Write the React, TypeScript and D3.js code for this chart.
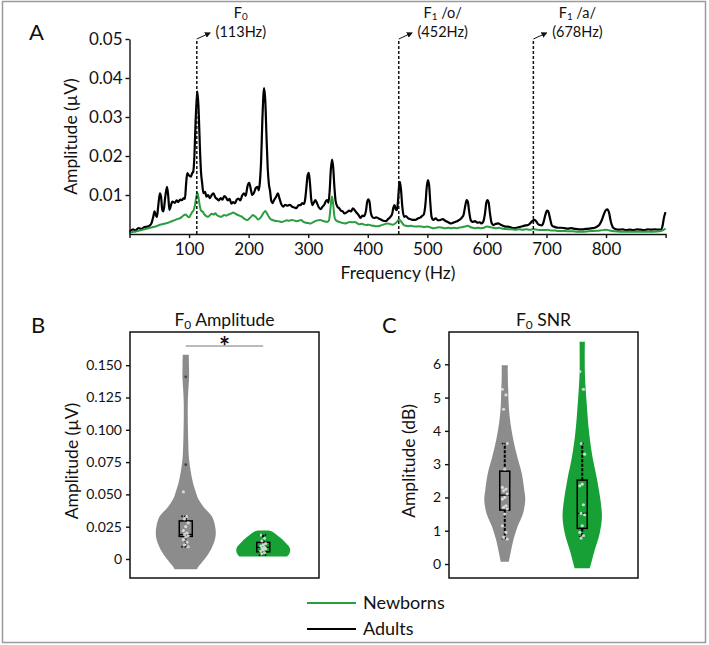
import React, { useEffect, useRef } from 'react';
import * as d3 from 'd3';

const WIDTH = 709;
const HEIGHT = 645;
const FONT = 'Lato, "Open Sans", sans-serif';
const LINE_GREEN = '#2a9d3f';
const VIOLIN_GREEN = '#17a035';
const VIOLIN_GRAY = '#8c8c8c';

// averaged spectra, [frequency (Hz), amplitude (µV)]
const adultSpectrum: [number, number][] = [
  [0, 0.0006], [6, 0.0012], [10, 0.0009], [15, 0.0015], [20, 0.0013], [25, 0.0018], [30, 0.0019], [34, 0.0022],
  [37, 0.0028], [40, 0.0045], [42, 0.0058], [44, 0.0049], [46, 0.0044], [48, 0.0068], [51, 0.0104], [53, 0.0095],
  [55, 0.0062], [57, 0.0058], [60, 0.0095], [63, 0.0121], [65, 0.0098], [67, 0.0062], [69, 0.007], [72, 0.0083],
  [76, 0.008], [79, 0.0086], [82, 0.0082], [85, 0.0088], [88, 0.0087], [91, 0.0092], [93, 0.009], [95, 0.0128],
  [97, 0.0156], [100, 0.015], [103, 0.0147], [105, 0.0155], [107, 0.016], [109, 0.02], [111, 0.029], [113, 0.035],
  [114, 0.0365], [116, 0.032], [118, 0.023], [120, 0.016], [122, 0.013], [124, 0.0105], [127, 0.0108], [129, 0.0096],
  [132, 0.01], [135, 0.0092], [138, 0.01], [141, 0.0104], [144, 0.0094], [147, 0.009], [150, 0.0086], [153, 0.0092],
  [156, 0.0088], [159, 0.0097], [162, 0.0094], [165, 0.0086], [168, 0.009], [171, 0.0078], [174, 0.0082], [177, 0.0079],
  [180, 0.0088], [183, 0.0091], [186, 0.0086], [189, 0.0098], [192, 0.0104], [195, 0.0098], [198, 0.0122], [201, 0.0131],
  [204, 0.0112], [206, 0.01], [209, 0.0106], [212, 0.0118], [215, 0.0121], [217, 0.0112], [219, 0.0135], [221, 0.019],
  [223, 0.029], [225, 0.036], [226, 0.0374], [228, 0.034], [230, 0.025], [232, 0.017], [234, 0.0128], [236, 0.011],
  [238, 0.0085], [240, 0.0079], [243, 0.0088], [246, 0.0095], [249, 0.0104], [252, 0.009], [255, 0.0076], [258, 0.007],
  [261, 0.0075], [265, 0.0073], [269, 0.0075], [273, 0.007], [277, 0.0068], [280, 0.0066], [284, 0.0074], [287, 0.0074],
  [290, 0.0079], [293, 0.0077], [295, 0.009], [297, 0.012], [299, 0.015], [301, 0.0157], [303, 0.013], [305, 0.009],
  [307, 0.0074], [310, 0.0082], [312, 0.0087], [315, 0.0078], [318, 0.0068], [321, 0.0064], [324, 0.007], [327, 0.0075],
  [330, 0.0085], [332, 0.0087], [334, 0.008], [336, 0.011], [338, 0.0165], [340, 0.0191], [342, 0.017], [344, 0.012],
  [346, 0.0085], [349, 0.007], [352, 0.0066], [355, 0.006], [358, 0.0058], [361, 0.0053], [365, 0.0056], [369, 0.006],
  [372, 0.0058], [375, 0.0066], [378, 0.0061], [381, 0.0055], [384, 0.005], [388, 0.0041], [391, 0.0047], [394, 0.0046],
  [397, 0.006], [399, 0.0082], [401, 0.0089], [403, 0.0082], [405, 0.0055], [408, 0.0043], [411, 0.0041], [414, 0.0043],
  [418, 0.004], [422, 0.0037], [426, 0.0034], [430, 0.0033], [434, 0.0038], [438, 0.0044], [441, 0.0052], [443, 0.0068],
  [445, 0.0074], [447, 0.0063], [449, 0.0061], [451, 0.009], [453, 0.013], [454, 0.0134], [456, 0.011], [458, 0.007],
  [461, 0.0044], [464, 0.0046], [468, 0.004], [472, 0.0038], [476, 0.0036], [480, 0.0036], [484, 0.004], [488, 0.0042],
  [491, 0.0046], [494, 0.005], [497, 0.008], [499, 0.012], [501, 0.0138], [503, 0.0125], [505, 0.008], [507, 0.0045],
  [510, 0.0036], [514, 0.004], [518, 0.0035], [522, 0.0036], [526, 0.0038], [530, 0.0034], [535, 0.003], [540, 0.0027],
  [545, 0.003], [550, 0.0033], [554, 0.0036], [558, 0.0042], [561, 0.005], [564, 0.0075], [566, 0.0087], [568, 0.0083],
  [570, 0.006], [573, 0.0035], [576, 0.0031], [580, 0.0033], [584, 0.0029], [588, 0.003], [591, 0.0027], [594, 0.0032],
  [597, 0.0055], [599, 0.008], [601, 0.0087], [603, 0.008], [605, 0.0055], [608, 0.0028], [611, 0.0023], [615, 0.0026],
  [619, 0.0027], [623, 0.0024], [627, 0.0021], [631, 0.0019], [635, 0.0019], [640, 0.0017], [645, 0.0015], [650, 0.0016],
  [655, 0.0018], [660, 0.002], [665, 0.0022], [669, 0.0023], [673, 0.0028], [677, 0.0034], [680, 0.0036], [683, 0.0032],
  [686, 0.0025], [689, 0.0023], [692, 0.0022], [695, 0.003], [698, 0.0048], [701, 0.006], [703, 0.0058], [706, 0.004],
  [709, 0.0022], [712, 0.0019], [716, 0.0017], [720, 0.0016], [725, 0.0016], [730, 0.0015], [736, 0.0014], [742, 0.0015],
  [748, 0.0013], [754, 0.0012], [760, 0.0012], [766, 0.0013], [772, 0.0014], [777, 0.0015], [781, 0.0016], [785, 0.0019],
  [789, 0.0024], [793, 0.0036], [797, 0.0053], [800, 0.0062], [802, 0.0063], [805, 0.0055], [808, 0.0032], [812, 0.0016],
  [817, 0.0012], [822, 0.0011], [828, 0.0012], [834, 0.001], [840, 0.0011], [846, 0.001], [852, 0.0012], [858, 0.0011],
  [864, 0.001], [870, 0.0012], [876, 0.0011], [882, 0.0012], [888, 0.0011], [893, 0.0012], [895, 0.0022], [897, 0.004],
  [899, 0.0052], [900, 0.0056],
];

const newbornSpectrum: [number, number][] = [
  [0, 0.0003], [5, 0.0005], [10, 0.0006], [15, 0.0008], [20, 0.001], [25, 0.0012], [30, 0.0014], [35, 0.0016],
  [40, 0.0018], [45, 0.002], [50, 0.0023], [55, 0.0025], [60, 0.0027], [65, 0.0029], [70, 0.0032], [75, 0.0035],
  [80, 0.0038], [85, 0.0041], [88, 0.0044], [91, 0.0048], [94, 0.005], [97, 0.0046], [100, 0.0043], [103, 0.005],
  [106, 0.0058], [108, 0.0062], [110, 0.0075], [112, 0.0095], [114, 0.0106], [116, 0.0092], [118, 0.0072], [120, 0.006],
  [123, 0.0057], [126, 0.005], [129, 0.0046], [132, 0.0044], [135, 0.0048], [138, 0.0052], [141, 0.005], [144, 0.0053],
  [147, 0.0048], [150, 0.0046], [153, 0.0044], [156, 0.0046], [159, 0.0049], [162, 0.0047], [165, 0.0049], [168, 0.0051],
  [171, 0.0053], [174, 0.0055], [177, 0.0053], [180, 0.005], [183, 0.0048], [186, 0.0046], [189, 0.0044], [192, 0.004],
  [195, 0.0037], [198, 0.0036], [201, 0.004], [204, 0.0044], [207, 0.0049], [210, 0.0046], [213, 0.0042], [216, 0.0037],
  [219, 0.004], [222, 0.0046], [225, 0.0054], [228, 0.0059], [231, 0.0052], [234, 0.0044], [237, 0.0038], [240, 0.0036],
  [244, 0.0034], [248, 0.0033], [252, 0.0032], [256, 0.0031], [260, 0.0033], [264, 0.0035], [268, 0.0034], [272, 0.0036],
  [276, 0.0035], [280, 0.0033], [284, 0.0034], [288, 0.0036], [292, 0.0031], [296, 0.0029], [300, 0.0028], [304, 0.0027],
  [308, 0.003], [312, 0.0033], [316, 0.0035], [320, 0.0036], [324, 0.0034], [328, 0.0032], [332, 0.0031], [335, 0.0035],
  [337, 0.006], [339, 0.009], [340, 0.0096], [342, 0.0075], [344, 0.0045], [346, 0.0036], [350, 0.0032], [354, 0.003],
  [358, 0.0028], [362, 0.0027], [366, 0.0029], [370, 0.0031], [374, 0.003], [378, 0.0031], [382, 0.0028], [386, 0.0025],
  [390, 0.0026], [394, 0.0024], [398, 0.0023], [402, 0.0024], [406, 0.0022], [410, 0.0021], [414, 0.002], [418, 0.002],
  [422, 0.0022], [426, 0.0024], [430, 0.0026], [434, 0.0027], [438, 0.0025], [442, 0.0024], [446, 0.0027], [450, 0.0033],
  [453, 0.0037], [456, 0.0032], [460, 0.0024], [464, 0.0021], [468, 0.002], [472, 0.0021], [476, 0.002], [480, 0.0019],
  [485, 0.002], [490, 0.0019], [495, 0.0018], [500, 0.0019], [505, 0.0017], [510, 0.0015], [515, 0.0016], [520, 0.0017],
  [525, 0.0016], [530, 0.0015], [535, 0.0016], [540, 0.0015], [545, 0.0016], [550, 0.0015], [555, 0.0017], [560, 0.0018],
  [565, 0.002], [568, 0.0021], [572, 0.0018], [576, 0.0016], [580, 0.0015], [585, 0.0016], [590, 0.0015], [595, 0.0016],
  [600, 0.0019], [605, 0.0018], [610, 0.0016], [615, 0.0015], [620, 0.0016], [625, 0.0014], [630, 0.0013], [636, 0.0012],
  [642, 0.0012], [648, 0.0011], [654, 0.0012], [660, 0.0011], [666, 0.0012], [672, 0.0011], [678, 0.0012], [684, 0.0011],
  [690, 0.001], [696, 0.001], [702, 0.0011], [708, 0.0009], [714, 0.0009], [720, 0.0008], [728, 0.0008], [736, 0.0007],
  [744, 0.0007], [752, 0.0006], [760, 0.0006], [770, 0.0007], [780, 0.0008], [790, 0.0009], [800, 0.0011], [806, 0.0009],
  [814, 0.0007], [824, 0.0006], [834, 0.0006], [844, 0.0006], [856, 0.0006], [868, 0.0006], [880, 0.0006], [890, 0.0007],
  [896, 0.001], [900, 0.0014],
];

const freqTicks = [100, 200, 300, 400, 500, 600, 700, 800];
const spectrumAmpTicks = [0.01, 0.02, 0.03, 0.04, 0.05];

// marked peaks: frequency, subscript, vowel, label
const peakFreqs = [113, 452, 678];
const peakSubs = ['0', '1', '1'];
const peakVowels = ['', ' /o/', ' /a/'];
const peakLabels = ['(113Hz)', '(452Hz)', '(678Hz)'];

const groups = ['Adults', 'Newborns'];

// violin outlines: [value, relative density]
const adultAmpViolin: [number, number][] = [
  [-0.008, 0.37], [-0.006, 0.42], [0, 0.63], [0.007, 0.83], [0.015, 0.97], [0.02, 1.0], [0.025, 0.98], [0.033, 0.87],
  [0.04, 0.6], [0.046, 0.43], [0.05, 0.36], [0.06, 0.23], [0.07, 0.15], [0.075, 0.12], [0.08, 0.1], [0.09, 0.083],
  [0.1, 0.073], [0.11, 0.067], [0.12, 0.067], [0.13, 0.083], [0.14, 0.11], [0.15, 0.107], [0.158, 0.1],
];
const newbornAmpViolin: [number, number][] = [
  [0.002, 0.8], [0.004, 0.87], [0.007, 0.9], [0.01, 0.85], [0.0122, 0.76], [0.015, 0.65], [0.0173, 0.53], [0.02, 0.38],
  [0.0215, 0.27], [0.022, 0.18],
];
const adultSnrViolin: [number, number][] = [
  [0.07, 0.2], [0.32, 0.28], [0.72, 0.42], [1.12, 0.62], [1.52, 0.89], [1.92, 1.0], [2.22, 0.95], [2.72, 0.83],
  [3.22, 0.61], [3.72, 0.42], [4.22, 0.28], [4.7, 0.2], [5.22, 0.17], [5.6, 0.15], [5.97, 0.15],
];
const newbornSnrViolin: [number, number][] = [
  [-0.13, 0.37], [0.42, 0.61], [0.92, 0.85], [1.42, 0.96], [1.92, 0.89], [2.52, 0.73], [3.22, 0.5], [3.92, 0.34],
  [4.72, 0.23], [5.73, 0.13], [6.68, 0.13],
];

// box summaries: [low whisker, q1, median, q3, high whisker]
const adultAmpBox = [0.0095, 0.0175, 0.019, 0.0295, 0.033];
const newbornAmpBox = [0.003, 0.0056, 0.009, 0.0129, 0.0186];
const adultSnrBox = [0.77, 1.62, 2.07, 2.79, 3.62];
const newbornSnrBox = [0.82, 1.07, 1.52, 2.52, 3.62];

// individual participants
const adultAmpPoints = [0.052, 0.033, 0.031, 0.028, 0.025, 0.022, 0.02, 0.019, 0.018, 0.017, 0.015, 0.013, 0.011, 0.0095];
const adultAmpOutliers = [0.141, 0.073];
const newbornAmpPoints = [0.0186, 0.016, 0.014, 0.012, 0.011, 0.01, 0.009, 0.0085, 0.008, 0.007, 0.006, 0.005, 0.004];
const adultSnrPoints = [5.25, 5.08, 4.65, 3.62, 2.85, 2.3, 2.25, 2.2, 2.1, 2.0, 1.95, 1.75, 1.7, 1.65, 1.5, 1.15, 0.95, 0.8, 0.75];
const newbornSnrPoints = [5.78, 5.25, 3.62, 3.3, 2.4, 2.35, 1.78, 1.52, 1.48, 1.15, 0.95, 0.85, 0.78];

const ampTicks = [0, 0.025, 0.05, 0.075, 0.1, 0.125, 0.15];
const snrTicks = [0, 1, 2, 3, 4, 5, 6];

type Svg = d3.Selection<SVGSVGElement, unknown, null, undefined>;
type G = d3.Selection<SVGGElement, unknown, null, undefined>;

function subText(g: G, x: number, y: number, size: number, before: string, sub: string, after: string, anchor = 'middle') {
  const t = g
    .append('text')
    .attr('x', x)
    .attr('y', y)
    .attr('font-size', size)
    .attr('text-anchor', anchor)
    .attr('fill', '#111');
  t.append('tspan').text(before);
  t.append('tspan').text(sub).attr('font-size', size * 0.68).attr('dy', size * 0.16);
  t.append('tspan').text(after).attr('dy', -size * 0.16);
  return t;
}

function styleAxis(g: G, size: number) {
  g.attr('font-family', FONT);
  g.selectAll('text').attr('font-size', size).attr('fill', '#111');
  g.selectAll('line, path').attr('stroke', '#111').attr('stroke-width', 1.4);
}

function drawSpectrum(svg: Svg) {
  const g = svg.append('g') as unknown as G;
  const x = d3.scaleLinear().domain([0, 900]).range([129.5, 665.6]);
  const y = d3.scaleLinear().domain([0, 0.05]).range([234, 39]);
  const line = d3
    .line<[number, number]>()
    .x((d) => x(d[0]))
    .y((d) => y(d[1]))
    .curve(d3.curveMonotoneX);

  g.append('path').attr('d', line(adultSpectrum)).attr('fill', 'none').attr('stroke', '#000').attr('stroke-width', 2.2)
    .attr('stroke-linejoin', 'round');
  g.append('path').attr('d', line(newbornSpectrum)).attr('fill', 'none').attr('stroke', LINE_GREEN).attr('stroke-width', 2)
    .attr('stroke-linejoin', 'round');

  const xAxis = g
    .append('g')
    .attr('transform', `translate(0,${y(0)})`)
    .call(d3.axisBottom(x).tickValues(freqTicks).tickSize(4).tickSizeOuter(4).tickPadding(5)) as unknown as G;
  styleAxis(xAxis, 17);
  const yAxis = g
    .append('g')
    .attr('transform', `translate(${x(0)},0)`)
    .call(d3.axisLeft(y).tickValues(spectrumAmpTicks).tickSize(4).tickSizeOuter(0).tickPadding(3).tickFormat(d3.format('.2f'))) as unknown as G;
  styleAxis(yAxis, 17);

  // marked peaks with dashed guides and arrowed labels
  peakFreqs.forEach((f, i) => {
    const px = x(f);
    g.append('line')
      .attr('x1', px).attr('x2', px)
      .attr('y1', y(0)).attr('y2', y(0.05))
      .attr('stroke', '#111').attr('stroke-width', 1.5).attr('stroke-dasharray', '3,2');
    g.append('line')
      .attr('x1', px).attr('y1', y(0.05))
      .attr('x2', px + 13).attr('y2', y(0.05) - 6)
      .attr('stroke', '#111').attr('stroke-width', 1)
      .attr('marker-end', 'url(#arrow)');
    subText(g, px + 44, 18, 14.5, 'F', peakSubs[i], peakVowels[i]);
    g.append('text')
      .attr('x', px + 44).attr('y', 37)
      .attr('text-anchor', 'middle').attr('font-size', 14.5).attr('fill', '#111')
      .text(peakLabels[i]);
  });

  g.append('text')
    .attr('transform', `translate(77,136.5) rotate(-90)`)
    .attr('text-anchor', 'middle').attr('font-size', 17.5).attr('fill', '#111')
    .text('Amplitude (µV)');
  g.append('text')
    .attr('x', 398).attr('y', 279)
    .attr('text-anchor', 'middle').attr('font-size', 17.5).attr('fill', '#111')
    .text('Frequency (Hz)');
  g.append('text').attr('x', 29).attr('y', 40).attr('font-size', 22).attr('fill', '#111').text('A');
}

interface ViolinSet {
  profile: [number, number][];
  box: number[];
  points: number[];
  outliers: number[];
  color: string;
}

interface PanelOpts {
  left: number;
  right: number;
  domain: [number, number];
  ticks: number[];
  format: (d: number) => string;
  letter: string;
  letterX: number;
  titleSub: string;
  titleRest: string;
  yLabel: string;
  labelX: number;
  maxHalf: number;
  boxWidth: number;
  sets: ViolinSet[];
  sig?: boolean;
}

function drawViolinPanel(svg: Svg, o: PanelOpts) {
  const g = svg.append('g') as unknown as G;
  const top = 332;
  const bottom = 578;
  const y = d3.scaleLinear().domain(o.domain).range([bottom, top]);
  const x = d3.scalePoint<string>().domain(groups).range([o.left, o.right]).padding(0.72);
  const w = d3.scaleLinear().domain([0, 1]).range([0, o.maxHalf]);

  o.sets.forEach((s, i) => {
    const cx = x(groups[i]) as number;
    const area = d3
      .area<[number, number]>()
      .y((d) => y(d[0]))
      .x0((d) => cx - w(d[1]))
      .x1((d) => cx + w(d[1]))
      .curve(d3.curveCatmullRom);
    g.append('path').attr('d', area(s.profile)).attr('fill', s.color).attr('stroke', 'none');

    const [lo, q1, med, q3, hi] = s.box;
    const bw = o.boxWidth;
    // whiskers
    g.append('line')
      .attr('x1', cx).attr('x2', cx).attr('y1', y(q3)).attr('y2', y(hi))
      .attr('stroke', '#000').attr('stroke-width', 2).attr('stroke-dasharray', '3,1.5');
    g.append('line')
      .attr('x1', cx).attr('x2', cx).attr('y1', y(q1)).attr('y2', y(lo))
      .attr('stroke', '#000').attr('stroke-width', 2).attr('stroke-dasharray', '3,1.5');
    [lo, hi].forEach((v) => {
      g.append('line')
        .attr('x1', cx - bw / 2 + 2).attr('x2', cx + bw / 2 - 2).attr('y1', y(v)).attr('y2', y(v))
        .attr('stroke', '#000').attr('stroke-width', 1.5).attr('stroke-dasharray', '1.5,1.5');
    });
    g.append('rect')
      .attr('x', cx - bw / 2).attr('width', bw)
      .attr('y', y(q3)).attr('height', y(q1) - y(q3))
      .attr('fill', 'none').attr('stroke', '#000').attr('stroke-width', 1.5);
    g.append('line')
      .attr('x1', cx - bw / 2).attr('x2', cx + bw / 2).attr('y1', y(med)).attr('y2', y(med))
      .attr('stroke', '#000').attr('stroke-width', 1.3);

    // participants, nudged sideways so they do not pile up
    g.selectAll(null)
      .data(s.points)
      .enter()
      .append('circle')
      .attr('cx', (_d, j) => cx + (((j * 3) % 5) - 2) * 1.2)
      .attr('cy', (d) => y(d))
      .attr('r', 1.6)
      .attr('fill', '#e6e6e6')
      .attr('opacity', 0.85);
    g.selectAll(null)
      .data(s.outliers)
      .enter()
      .append('circle')
      .attr('cx', cx)
      .attr('cy', (d) => y(d))
      .attr('r', 1.4)
      .attr('fill', '#444');
  });

  g.append('rect')
    .attr('x', o.left).attr('y', top)
    .attr('width', o.right - o.left).attr('height', bottom - top)
    .attr('fill', 'none').attr('stroke', '#111').attr('stroke-width', 1.5);

  const yAxis = g
    .append('g')
    .attr('transform', `translate(${o.left},0)`)
    .call(d3.axisLeft(y).tickValues(o.ticks).tickSize(4).tickSizeOuter(0).tickPadding(4).tickFormat((d) => o.format(d as number))) as unknown as G;
  styleAxis(yAxis, 14);
  yAxis.select('.domain').remove();

  if (o.sig) {
    const a = x(groups[0]) as number;
    const b = x(groups[1]) as number;
    g.append('line').attr('x1', a).attr('x2', b).attr('y1', 346).attr('y2', 346).attr('stroke', '#777').attr('stroke-width', 1);
    g.append('text')
      .attr('x', (a + b) / 2).attr('y', 356)
      .attr('text-anchor', 'middle').attr('font-size', 26).attr('font-weight', 'bold').attr('fill', '#111')
      .text('*');
  }

  subText(g, (o.left + o.right) / 2, 326, 17.5, 'F', o.titleSub, o.titleRest);
  g.append('text')
    .attr('transform', `translate(${o.labelX},${(top + bottom) / 2 + 6}) rotate(-90)`)
    .attr('text-anchor', 'middle').attr('font-size', 17.5).attr('fill', '#111')
    .text(o.yLabel);
  g.append('text').attr('x', o.letterX).attr('y', 333).attr('font-size', 22).attr('fill', '#111').text(o.letter);
}

function drawLegend(svg: Svg) {
  const g = svg.append('g');
  const entries = ['Newborns', 'Adults'];
  const colors = [LINE_GREEN, '#000'];
  const ly = d3.scalePoint<string>().domain(entries).range([603, 629]);
  entries.forEach((e, i) => {
    const yy = ly(e) as number;
    g.append('line').attr('x1', 307).attr('x2', 356).attr('y1', yy).attr('y2', yy).attr('stroke', colors[i]).attr('stroke-width', 1.8);
    g.append('text').attr('x', 363).attr('y', yy + 6).attr('font-size', 18).attr('fill', '#111').text(e);
  });
}

export default function App() {
  const ref = useRef<SVGSVGElement>(null);

  useEffect(() => {
    if (!ref.current) return;
    draw();
    // eslint-disable-next-line react-hooks/exhaustive-deps
  }, []);

  function draw() {
    const svg = d3.select(ref.current as SVGSVGElement) as Svg;
    svg.selectAll('*').remove();
    svg.attr('font-family', FONT);

    svg
      .append('defs')
      .append('marker')
      .attr('id', 'arrow')
      .attr('viewBox', '0 0 10 10')
      .attr('refX', 8)
      .attr('refY', 5)
      .attr('markerWidth', 6)
      .attr('markerHeight', 6)
      .attr('orient', 'auto')
      .append('path')
      .attr('d', 'M0,0 L10,5 L0,10 z')
      .attr('fill', '#111');

    svg.append('rect').attr('width', WIDTH).attr('height', HEIGHT).attr('fill', '#fff');
    svg
      .append('rect')
      .attr('x', 2.5).attr('y', 1.5)
      .attr('width', 703).attr('height', 641)
      .attr('fill', 'none').attr('stroke', '#9a9a9a').attr('stroke-width', 1.5);

    drawSpectrum(svg);
    drawViolinPanel(svg, {
      left: 130,
      right: 319,
      domain: [-0.0147, 0.1757],
      ticks: ampTicks,
      format: (d) => (d === 0 ? '0' : d.toFixed(3)),
      letter: 'B',
      letterX: 31,
      titleSub: '0',
      titleRest: ' Amplitude',
      yLabel: 'Amplitude (µV)',
      labelX: 78,
      maxHalf: 30,
      boxWidth: 13,
      sig: true,
      sets: [
        { profile: adultAmpViolin, box: adultAmpBox, points: adultAmpPoints, outliers: adultAmpOutliers, color: VIOLIN_GRAY },
        { profile: newbornAmpViolin, box: newbornAmpBox, points: newbornAmpPoints, outliers: [], color: VIOLIN_GREEN },
      ],
    });
    drawViolinPanel(svg, {
      left: 449,
      right: 638,
      domain: [-0.42, 6.97],
      ticks: snrTicks,
      format: (d) => String(d),
      letter: 'C',
      letterX: 382,
      titleSub: '0',
      titleRest: ' SNR',
      yLabel: 'Amplitude (dB)',
      labelX: 415,
      maxHalf: 20.5,
      boxWidth: 10,
      sets: [
        { profile: adultSnrViolin, box: adultSnrBox, points: adultSnrPoints, outliers: [], color: VIOLIN_GRAY },
        { profile: newbornSnrViolin, box: newbornSnrBox, points: newbornSnrPoints, outliers: [], color: VIOLIN_GREEN },
      ],
    });
    drawLegend(svg);
  }

  return (
    <svg
      ref={ref}
      width={WIDTH}
      height={HEIGHT}
      style={{ position: 'absolute', left: 0, top: 0, display: 'block' }}
    />
  );
}
